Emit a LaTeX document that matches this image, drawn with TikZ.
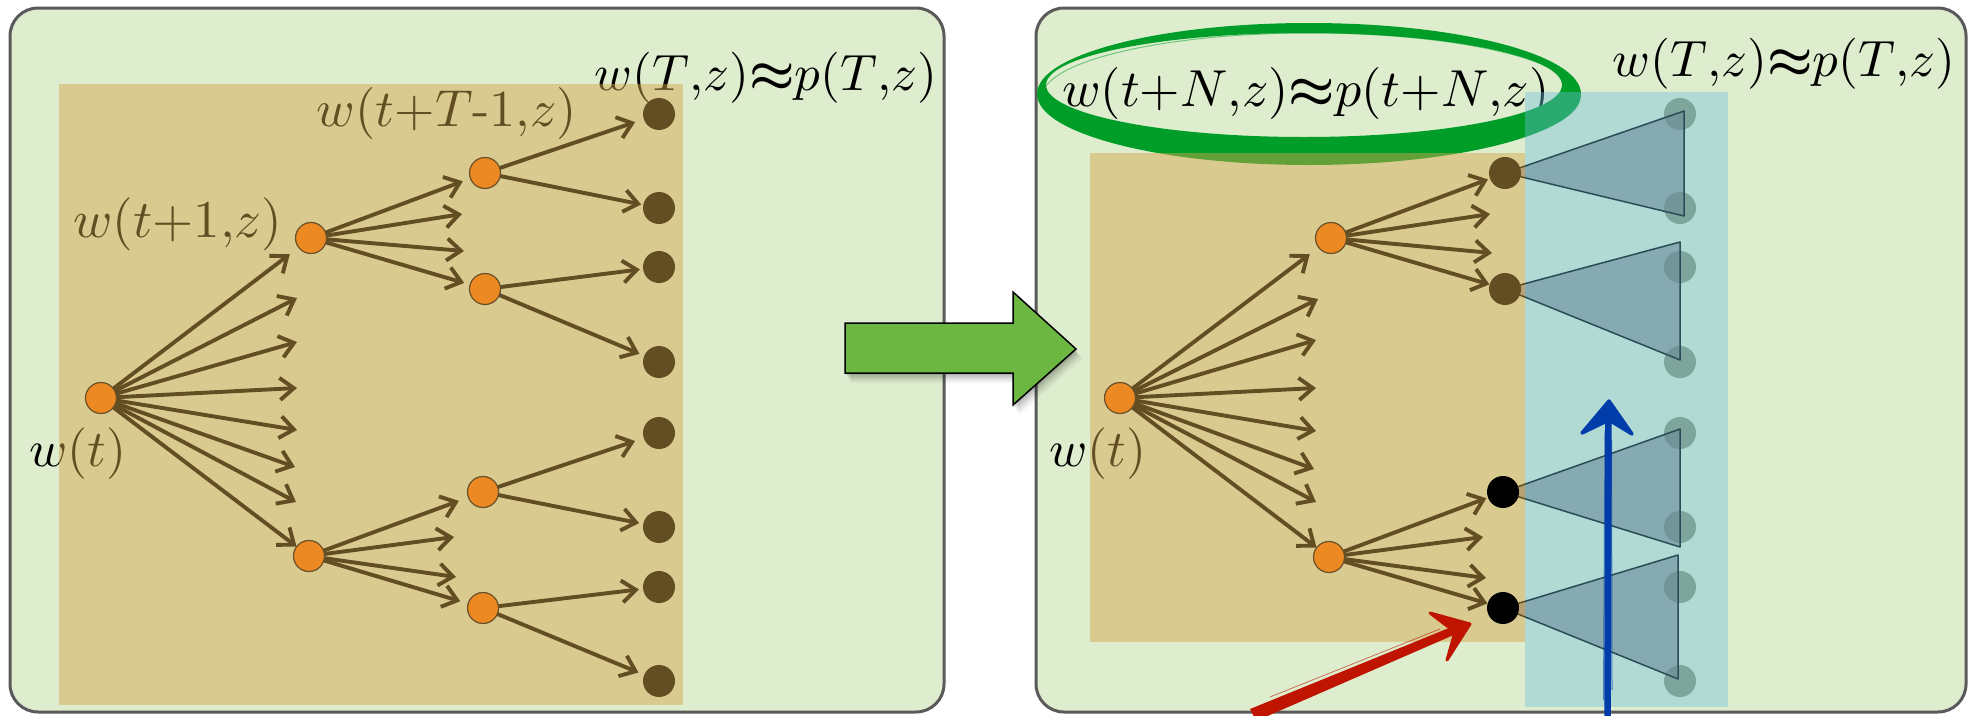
\documentclass[tikz,border=0pt]{standalone}
\usepackage{amsmath}
\usetikzlibrary{arrows.meta}
\definecolor{panelbg}{RGB}{222,237,206}
\definecolor{panelline}{RGB}{90,90,90}
\definecolor{tanov}{RGB}{213,166,75}
\definecolor{cyanov}{RGB}{107,190,219}
\definecolor{orng}{RGB}{237,137,34}
\definecolor{nodeline}{RGB}{105,80,40}
\definecolor{arrowgreen}{RGB}{108,182,66}
\definecolor{ellgreen}{RGB}{0,158,40}
\definecolor{redarr}{RGB}{190,20,0}
\definecolor{bluearr}{RGB}{0,60,170}
\definecolor{leafgray}{RGB}{137,149,113}
\definecolor{trifill}{RGB}{107,104,111}
\newcommand{\mylab}[2][5.2]{\scalebox{#1}{$#2$}}
\begin{document}
\begin{tikzpicture}[x=1pt,y=-1pt,
  panel/.style={fill=panelbg, draw=panelline, line width=3pt, rounded corners=28pt},
  arr/.style={draw=black, line width=3.9pt, -{Straight Barb[length=14pt,width=22pt]}, shorten >=#1},
  arr/.default=6pt,
  hid/.style={circle, inner sep=0pt, minimum size=#1},
  hid/.default=31pt,
  lbl/.style={inner sep=0pt},
  darknode/.style={circle, inner sep=0pt, minimum size=32pt, fill=black},
  graynode/.style={circle, inner sep=0pt, minimum size=32pt, fill=leafgray},
  orangenode/.style={circle, inner sep=0pt, minimum size=31pt, fill=orng, draw=nodeline, line width=1.2pt},
  tri/.style={fill=trifill, fill opacity=0.6, draw=black, line width=1.5pt, line join=round},
  tanlayer/.style={fill=tanov, fill opacity=0.465},
  cyanlayer/.style={fill=cyanov, fill opacity=0.4}]
\useasboundingbox (0,0) rectangle (1973,715);
\fill[white] (0,0) rectangle (1973,715);
% panels
\draw[panel] (10,8) rectangle (944,712);
\draw[panel] (1036,8) rectangle (1966,712);

% ================= LEFT PANEL =================
\node[lbl] (LlabT) at (766,78) {\mylab[5.1]{w(T{,}z){\boldsymbol{\approx}}p(T{,}z)}};
\node[lbl] (LlabTa) at (447,113) {\mylab[5.2]{w(t{+}T\text{-}1{,}z)}};
\node[lbl] (Llabb) at (178,224) {\mylab[5.3]{w(t{+}1{,}z)}};
\node[lbl] (Llabt) at (78,454) {\mylab[5.15]{w(t)}};

\node[hid] (LR) at (101,398) {};
\node[hid] (LA) at (311,238) {};
\node[hid] (LB) at (309,556) {};
\node[hid] (LAa) at (485,173) {};
\node[hid] (LAb) at (485,289) {};
\node[hid] (LBa) at (483,492) {};
\node[hid] (LBb) at (483,608) {};
\foreach \i/\y in {1/114,2/208,3/267,4/362,5/433,6/527,7/587,8/681}
  \node[darknode] (Ll\i) at (659,\y) {};

\coordinate (ld1) at (297,298);
\coordinate (ld2) at (297,342);
\coordinate (ld3) at (297,388);
\coordinate (ld4) at (297,430);
\coordinate (ld5) at (295,467);
\coordinate (ld6) at (296,502);
\coordinate (lda1) at (462,214);
\coordinate (lda2) at (464,251);
\coordinate (ldb1) at (454,537);
\coordinate (ldb2) at (456,577);

\draw[arr=11pt] (LR.center) -- (LA);
\foreach \c in {ld1,ld2,ld3,ld4,ld5,ld6} \draw[arr=0pt] (LR.center) -- (\c);
\draw[arr=0pt] (LR.center) -- (LB);
\draw[arr=8pt] (LA.center) -- (LAa);
\draw[arr=0pt] (LA.center) -- (lda1);
\draw[arr=0pt] (LA.center) -- (lda2);
\draw[arr=6pt] (LA.center) -- (LAb);
\draw[arr=10pt] (LB.center) -- (LBa);
\draw[arr=0pt] (LB.center) -- (ldb1);
\draw[arr=0pt] (LB.center) -- (ldb2);
\draw[arr=8pt] (LB.center) -- (LBb);
\draw[arr=9pt] (LAa.center) -- (Ll1);
\draw[arr=2pt] (LAa.center) -- (Ll2);
\draw[arr=3pt] (LAb.center) -- (Ll3);
\draw[arr=5pt] (LAb.center) -- (Ll4);
\draw[arr=9pt] (LBa.center) -- (Ll5);
\draw[arr=4pt] (LBa.center) -- (Ll6);
\draw[arr=4pt] (LBb.center) -- (Ll7);
\draw[arr=6pt] (LBb.center) -- (Ll8);

\fill[tanlayer] (59,84) rectangle (683,705);

\node[orangenode] (LRv) at (LR) {};
\node[orangenode] (LAv) at (LA) {};
\node[orangenode] (LBv) at (LB) {};
\node[orangenode] (LAav) at (LAa) {};
\node[orangenode] (LAbv) at (LAb) {};
\node[orangenode] (LBav) at (LBa) {};
\node[orangenode] (LBbv) at (LBb) {};

% ================= RIGHT PANEL =================
\node[lbl] (RlabT) at (1784,64) {\mylab[5.1]{w(T{,}z){\boldsymbol{\approx}}p(T{,}z)}};
\node[lbl] (RlabN) at (1306,93) {\mylab[5.2]{w(t{+}N{,}z){\boldsymbol{\approx}}p(t{+}N{,}z)}};
\node[lbl] (Rlabt) at (1098,454) {\mylab[5.15]{w(t)}};

% brush ellipse
\fill[ellgreen, even odd rule] (1309,94) ellipse [x radius=272, y radius=71]
  (1304,85) ellipse [x radius=258, y radius=52];
\draw[ellgreen, line width=1.5pt, opacity=.7] (1307,92) ellipse [x radius=268, y radius=66];
\draw[ellgreen, line width=1pt, opacity=.5] (1311,97) ellipse [x radius=269, y radius=64];
\draw[ellgreen, line width=0.8pt, opacity=.5] (1306,91) ellipse [x radius=266, y radius=63];

\node[hid] (RR) at (1120,398) {};
\node[hid] (RA) at (1331,238) {};
\node[hid] (RB) at (1329,557) {};
\node[hid=32pt] (RAa) at (1505,173) {};
\node[hid=32pt] (RAb) at (1505,289) {};
\node[hid=32pt] (RBa) at (1503,492) {};
\node[hid=32pt] (RBb) at (1503,608) {};

\coordinate (rd1) at (1318,299);
\coordinate (rd2) at (1316,340);
\coordinate (rd3) at (1316,388);
\coordinate (rd4) at (1316,431);
\coordinate (rd5) at (1314,469);
\coordinate (rd6) at (1316,502);
\coordinate (rda1) at (1490,214);
\coordinate (rda2) at (1492,253);
\coordinate (rdb1) at (1483,537);
\coordinate (rdb2) at (1486,578);

\draw[arr=11pt] (RR.center) -- (RA);
\foreach \c in {rd1,rd2,rd3,rd4,rd5,rd6} \draw[arr=0pt] (RR.center) -- (\c);
\draw[arr=0pt] (RR.center) -- (RB);
\draw[arr=2pt] (RA.center) -- (RAa);
\draw[arr=0pt] (RA.center) -- (rda1);
\draw[arr=0pt] (RA.center) -- (rda2);
\draw[arr=0pt] (RA.center) -- (RAb);
\draw[arr=1.5pt] (RB.center) -- (RBa);
\draw[arr=0pt] (RB.center) -- (rdb1);
\draw[arr=0pt] (RB.center) -- (rdb2);
\draw[arr=0pt] (RB.center) -- (RBb);

\foreach \i/\y in {1/114,2/208,3/267,4/362,5/433,6/527,7/587,8/681}
  \node[graynode] (Rl\i) at (1680,\y) {};

\filldraw[tri] (RAa.center) -- (1684,111) -- (1684,216) -- cycle;
\filldraw[tri] (RAb.center) -- (1680,242) -- (1680,360) -- cycle;
\filldraw[tri] (RBa.center) -- (1680,429) -- (1680,547) -- cycle;
\filldraw[tri] (RBb.center) -- (1678,555) -- (1678,679) -- cycle;

\node[darknode] (RAav) at (RAa) {};
\node[darknode] (RAbv) at (RAb) {};

\fill[tanlayer] (1090,153) rectangle (1525,642);
\fill[cyanlayer] (1525,92) rectangle (1728,707);

\node[orangenode] (RRv) at (RR) {};
\node[orangenode] (RAv) at (RA) {};
\node[orangenode] (RBv) at (RB) {};
\node[darknode] (RBav) at (RBa) {};
\node[darknode] (RBbv) at (RBb) {};

% red sketch arrow
\fill[redarr] (1250,709) -- (1460,623.5) -- (1464,630.5) -- (1256,721) -- cycle;
\draw[redarr, line width=0.8pt, opacity=.6] (1262,710) -- (1452,629);
\draw[redarr, line width=0.8pt, opacity=.6] (1270,697) -- (1440,629);
\filldraw[redarr, line width=3pt, line join=round] (1430,613) -- (1470,624) -- (1447,660) -- (1455,632) -- cycle;

% blue sketch arrow
\draw[bluearr, line width=6.5pt] (1607.5,716) -- (1608.5,412);
\draw[bluearr, line width=1pt, opacity=.6] (1603.5,700) -- (1605,430);
\draw[bluearr, line width=1pt, opacity=.6] (1612,690) -- (1611.5,440);
\filldraw[bluearr, line width=3.5pt, line join=round] (1582,433) -- (1609,401) -- (1632,434) -- (1609,420) -- cycle;

% ================= BIG GREEN ARROW =================
\foreach \s/\o in {2/0.10,4/0.08,6/0.06,8/0.05,10/0.04}
  \fill[black, opacity=\o, shift={(\s*0.6,\s)}] (845,323) -- (1013,323) -- (1013,292) -- (1076,349) -- (1013,405) -- (1013,373) -- (845,373) -- cycle;
\filldraw[fill=arrowgreen, draw=black, line width=1.5pt] (845,323) -- (1013,323) -- (1013,292) -- (1076,349) -- (1013,405) -- (1013,373) -- (845,373) -- cycle;
\end{tikzpicture}
\end{document}
